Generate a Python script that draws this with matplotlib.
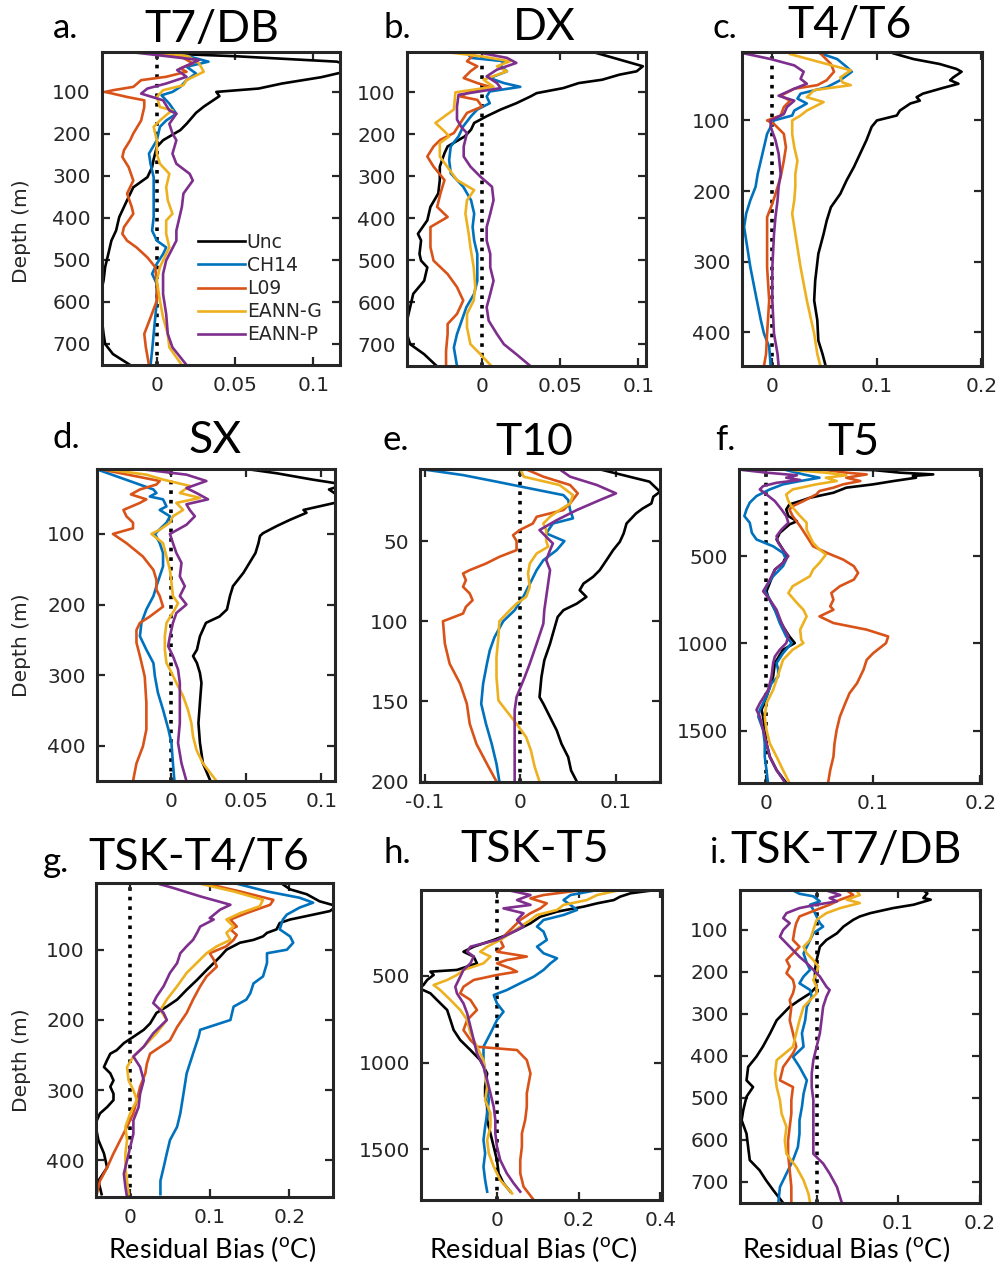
import matplotlib
matplotlib.use("Agg")
from matplotlib import pyplot as plt

plt.rcParams["font.family"] = "DejaVu Sans"
plt.rcParams["mathtext.fontset"] = "custom"
plt.rcParams["mathtext.rm"] = "Lato"

names = ["Unc", "CH14", "L09", "EANN-G", "EANN-P"]
colors = ["k", "#0072BD", "#D95319", "#EDB120", "#7E2F8E"]

# each series: (depth in m, residual bias in degC)
# a. T7/DB
a_unc = [(5, -0.02), (15, 0.05), (28, 0.115), (40, 0.125), (52, 0.12), (65, 0.105), (80, 0.08), (92, 0.065),
         (100, 0.038), (110, 0.04), (120, 0.036), (135, 0.03), (150, 0.025), (176, 0.019), (191, 0.015),
         (215, 0.004), (231, 0.0), (260, -0.002), (279, -0.003), (303, -0.006), (327, -0.015), (358, -0.019),
         (374, -0.021), (398, -0.024), (430, -0.026), (454, -0.029), (486, -0.031), (517, -0.033), (549, -0.034),
         (581, -0.036), (613, -0.036), (645, -0.035), (676, -0.034), (700, -0.033), (724, -0.028), (750, -0.017)]
a_ch14 = [(5, 0.0), (15, 0.02), (28, 0.033), (40, 0.019), (56, 0.025), (72, 0.019), (88, 0.015), (100, 0.01),
          (108, 0.003), (128, 0.008), (152, 0.0125), (168, 0.006), (183, 0.002), (215, 0.0), (247, -0.005),
          (271, -0.004), (303, -0.002), (358, -0.002), (398, -0.002), (430, -0.003), (454, 0.0), (470, 0.006),
          (486, 0.004), (509, 0.0), (533, -0.003), (557, 0.0), (597, 0.0), (637, -0.001), (676, -0.002),
          (716, -0.003), (750, -0.004)]
a_l09 = [(5, -0.005), (15, 0.015), (32, 0.023), (44, 0.015), (52, 0.019), (64, 0.006), (72, -0.01), (88, -0.015),
         (96, -0.028), (100, -0.033), (112, -0.019), (120, -0.008), (136, -0.008), (168, -0.01), (199, -0.015),
         (215, -0.017), (239, -0.021), (255, -0.022), (279, -0.018), (311, -0.015), (342, -0.019), (374, -0.016),
         (390, -0.015), (422, -0.021), (438, -0.022), (454, -0.019), (470, -0.013), (494, -0.006), (517, -0.001),
         (557, 0.0), (597, 0.0), (637, -0.004), (676, -0.008), (708, -0.007), (750, -0.005)]
a_eanng = [(5, 0.0), (15, 0.02), (32, 0.027), (52, 0.03), (72, 0.019), (84, 0.017), (96, 0.004), (112, 0.0),
           (136, 0.002), (144, 0.01), (152, 0.007), (168, 0.002), (183, -0.002), (215, 0.0), (247, 0.0),
           (271, 0.002), (295, 0.008), (327, 0.006), (358, 0.007), (390, 0.01), (406, 0.006), (438, 0.006),
           (470, 0.008), (517, 0.002), (549, 0.0), (597, 0.002), (637, 0.004), (676, 0.007), (708, 0.008),
           (750, 0.016)]
a_eannp = [(5, -0.017), (24, 0.027), (48, 0.013), (64, 0.019), (80, 0.006), (92, -0.006), (104, -0.01),
           (120, 0.004), (144, 0.008), (152, 0.0125), (176, 0.008), (199, 0.01), (215, 0.0125), (247, 0.01),
           (271, 0.0125), (295, 0.021), (311, 0.023), (342, 0.017), (374, 0.016), (398, 0.0145), (430, 0.0125),
           (454, 0.0125), (501, 0.006), (533, 0.004), (581, 0.004), (629, 0.006), (676, 0.007), (708, 0.01),
           (750, 0.019)]

# b. DX
b_unc = [(4, 0.071), (22, 0.088), (38, 0.103), (50, 0.099), (58, 0.088), (70, 0.077), (78, 0.062), (90, 0.052),
         (102, 0.035), (110, 0.031), (126, 0.022), (141, 0.012), (157, 0.003), (173, -0.005), (189, -0.007),
         (205, -0.011), (229, -0.022), (245, -0.024), (277, -0.027), (309, -0.027), (341, -0.028), (373, -0.033),
         (405, -0.035), (437, -0.041), (453, -0.039), (485, -0.040), (501, -0.039), (517, -0.035), (549, -0.037),
         (580, -0.044), (612, -0.046), (644, -0.048), (676, -0.048), (700, -0.046), (724, -0.037), (752, -0.029)]
b_ch14 = [(5, -0.01), (18, -0.007), (26, 0.014), (38, 0.012), (50, 0.016), (66, 0.005), (78, 0.014), (87, 0.0245),
          (98, 0.005), (110, 0.003), (126, 0.005), (141, -0.003), (157, -0.007), (181, -0.012), (205, -0.015),
          (229, -0.020), (261, -0.021), (293, -0.020), (325, -0.012), (357, -0.007), (389, -0.005), (421, -0.006),
          (453, -0.005), (485, -0.003), (517, -0.003), (549, -0.003), (580, -0.005), (612, -0.010), (644, -0.013),
          (676, -0.016), (708, -0.018), (752, -0.016)]
b_l09 = [(10, -0.005), (26, -0.0096), (38, -0.003), (50, -0.0074), (66, -0.0117), (78, -0.003), (87, 0.005),
         (98, -0.0074), (110, -0.0138), (118, -0.003), (134, 0.0), (149, -0.0096), (173, -0.0138), (197, -0.018),
         (213, -0.0266), (229, -0.031), (253, -0.035), (277, -0.031), (309, -0.024), (341, -0.0266),
         (373, -0.0287), (397, -0.022), (421, -0.033), (437, -0.033), (469, -0.033), (501, -0.031), (533, -0.022),
         (564, -0.016), (596, -0.012), (628, -0.016), (652, -0.022), (676, -0.022), (716, -0.023), (752, -0.023)]
b_eanng = [(4, -0.023), (14, -0.001), (26, 0.018), (38, 0.0096), (50, 0.016), (70, 0.001), (87, 0.0074),
           (100, -0.017), (141, -0.018), (173, -0.0298), (193, -0.024), (205, -0.021), (221, -0.027),
           (253, -0.027), (309, -0.016), (333, -0.005), (357, -0.0096), (389, -0.0106), (437, -0.0085),
           (469, -0.0074), (517, -0.0053), (564, -0.0043), (596, -0.0053), (628, -0.0096), (660, -0.0096),
           (700, -0.0074), (724, -0.001), (752, 0.006)]
b_eannp = [(6, -0.001), (18, 0.016), (30, 0.022), (46, 0.0096), (62, 0.003), (78, 0.0096), (90, 0.012),
           (100, -0.005), (106, -0.015), (134, -0.016), (165, -0.016), (185, -0.0128), (197, -0.0096),
           (229, -0.0117), (253, -0.0117), (277, -0.0074), (301, -0.001), (325, 0.0064), (357, 0.0074),
           (389, 0.0053), (421, 0.003), (453, 0.003), (485, 0.0053), (517, 0.0053), (549, 0.0074), (580, 0.0053),
           (612, 0.003), (644, 0.0043), (676, 0.0096), (700, 0.014), (724, 0.022), (752, 0.031)]

# c. T4/T6
c_unc = [(5, 0.116), (13, 0.135), (20, 0.160), (27, 0.176), (31, 0.181), (39, 0.173), (43, 0.170), (48, 0.178),
         (54, 0.163), (62, 0.144), (67, 0.138), (72, 0.141), (76, 0.132), (86, 0.122), (93, 0.119), (100, 0.1),
         (109, 0.095), (128, 0.090), (147, 0.084), (166, 0.078), (185, 0.071), (204, 0.065), (223, 0.056),
         (242, 0.052), (261, 0.049), (289, 0.044), (327, 0.041), (355, 0.040), (383, 0.043), (412, 0.044),
         (431, 0.048), (448, 0.051)]
c_ch14 = [(5, 0.046), (13, 0.062), (24, 0.071), (31, 0.076), (43, 0.065), (53, 0.052), (62, 0.027), (69, 0.024),
          (76, 0.033), (86, 0.021), (93, 0.019), (100, 0.0016), (119, -0.005), (138, -0.008), (157, -0.011),
          (176, -0.014), (194, -0.016), (213, -0.021), (232, -0.025), (251, -0.027), (270, -0.025), (308, -0.021),
          (346, -0.016), (383, -0.011), (402, -0.008), (421, -0.003), (448, -0.0016)]
c_l09 = [(5, 0.046), (20, 0.056), (31, 0.059), (36, 0.056), (43, 0.052), (50, 0.043), (55, 0.021), (65, 0.008),
         (72, 0.017), (81, 0.011), (93, 0.008), (100, -0.005), (105, 0.0016), (119, 0.011), (138, 0.013),
         (157, 0.011), (180, 0.008), (204, 0.003), (218, 0.0), (237, -0.005), (261, -0.005), (308, -0.005),
         (355, -0.003), (402, -0.005), (431, -0.006), (448, -0.008)]
c_eanng = [(6, 0.017), (20, 0.052), (29, 0.075), (39, 0.065), (46, 0.067), (50, 0.075), (57, 0.040), (67, 0.033),
           (74, 0.049), (86, 0.033), (93, 0.027), (100, 0.019), (119, 0.019), (138, 0.021), (157, 0.024),
           (176, 0.022), (194, 0.022), (213, 0.021), (232, 0.019), (261, 0.022), (308, 0.027), (355, 0.033),
           (402, 0.040), (431, 0.043), (448, 0.046)]
c_eannp = [(5, -0.027), (13, -0.0016), (22, 0.021), (31, 0.030), (41, 0.027), (48, 0.033), (55, 0.021),
           (65, 0.006), (72, 0.021), (81, 0.014), (91, 0.011), (100, -0.0016), (109, -0.0016), (128, 0.003),
           (147, 0.006), (176, 0.008), (194, 0.006), (213, 0.005), (237, 0.003), (261, 0.0016), (308, 0.0),
           (355, 0.0), (402, 0.0016), (431, 0.005), (448, 0.006)]

# d. SX
d_unc = [(8, 0.05), (14, 0.07), (23, 0.094), (30, 0.115), (37, 0.105), (47, 0.112), (54, 0.113), (66, 0.088),
         (70, 0.09), (80, 0.079), (89, 0.07), (99, 0.061), (103, 0.059), (113, 0.058), (127, 0.056), (141, 0.052),
         (155, 0.048), (174, 0.041), (188, 0.039), (207, 0.037), (217, 0.032), (226, 0.023), (245, 0.019),
         (264, 0.017), (273, 0.0144), (283, 0.017), (297, 0.019), (311, 0.020), (339, 0.019), (368, 0.018),
         (396, 0.019), (425, 0.021), (450, 0.026)]
d_ch14 = [(8, 0.04), (9, -0.049), (37, -0.012), (42, -0.01), (47, -0.0144), (51, -0.0056), (61, -0.0033),
          (66, -0.0078), (75, -0.001), (84, -0.0033), (100, -0.011), (113, -0.0078), (127, -0.0056),
          (146, -0.0056), (160, -0.0078), (174, -0.01), (188, -0.012), (207, -0.0167), (226, -0.02), (245, -0.021),
          (264, -0.0167), (283, -0.012), (302, -0.011), (325, -0.009), (349, -0.0056), (377, -0.002), (396, 0.0),
          (425, 0.001), (450, 0.002)]
d_l09 = [(8, -0.048), (25, -0.0078), (30, -0.01), (37, -0.021), (44, -0.027), (51, -0.0167), (56, -0.021),
         (66, -0.032), (75, -0.03), (84, -0.0256), (92, -0.0256), (100, -0.039), (113, -0.03), (132, -0.019),
         (151, -0.012), (165, -0.01), (179, -0.01), (188, -0.0078), (203, -0.0056), (217, -0.0144), (226, -0.021),
         (236, -0.0233), (254, -0.0233), (273, -0.021), (302, -0.0178), (339, -0.0167), (377, -0.0167),
         (401, -0.019), (425, -0.0233), (450, -0.0256)]
d_eanng = [(8, -0.0456), (16, -0.0167), (23, -0.0056), (32, 0.0122), (42, 0.0056), (49, 0.019), (56, 0.0033),
           (66, 0.0078), (75, 0.001), (84, -0.001), (94, -0.0078), (100, -0.0133), (113, -0.0056), (132, -0.0033),
           (151, -0.001), (169, 0.0), (188, 0.001), (198, 0.0044), (207, 0.0022), (226, -0.0033), (245, -0.0044),
           (264, -0.0044), (283, -0.0033), (292, -0.001), (311, 0.0033), (330, 0.0078), (349, 0.011),
           (368, 0.0133), (387, 0.0144), (406, 0.0167), (425, 0.021), (450, 0.03)]
d_eannp = [(8, -0.021), (16, 0.01), (25, 0.0233), (35, 0.01), (42, 0.0167), (51, 0.0244), (58, 0.01),
           (66, 0.0122), (75, 0.0156), (87, 0.01), (100, -0.001), (113, 0.001), (127, 0.0033), (141, 0.0067),
           (160, 0.0056), (174, 0.0089), (188, 0.0056), (200, 0.01), (212, 0.0033), (226, 0.001), (245, -0.001),
           (259, -0.0022), (273, 0.001), (292, 0.0044), (311, 0.0056), (339, 0.0056), (368, 0.0056),
           (396, 0.0044), (425, 0.0067), (450, 0.01)]

# e. T10
e_unc = [(5.2, 0.083), (9.8, 0.114), (12.9, 0.135), (19.2, 0.146), (22.3, 0.139), (26.5, 0.137), (29.6, 0.128),
         (32.7, 0.121), (39, 0.111), (45.2, 0.108), (50.4, 0.104), (55.6, 0.097), (61.9, 0.09), (68.1, 0.083),
         (72.3, 0.076), (76.5, 0.066), (80.6, 0.062), (84.8, 0.069), (89, 0.059), (93.1, 0.045), (97.3, 0.039),
         (103.5, 0.036), (114, 0.031), (124.4, 0.025), (134.8, 0.022), (147.3, 0.020), (151.5, 0.024),
         (159.8, 0.031), (168.1, 0.038), (176.5, 0.043), (184.8, 0.05), (193.1, 0.053), (200, 0.059)]
e_ch14 = [(5.2, -0.102), (8.8, -0.06), (12.9, -0.025), (17.1, 0.0098), (21.3, 0.045), (24.4, 0.05), (30.6, 0.052),
          (35.8, 0.055), (39, 0.034), (45.2, 0.027), (50, 0.046), (55.6, 0.038), (61.9, 0.024), (68.1, 0.017),
          (76.5, 0.01), (84.8, 0.003), (93.1, -0.006), (100, -0.018), (109.8, -0.027), (118.1, -0.032),
          (126.5, -0.035), (139, -0.039), (151.5, -0.041), (164, -0.036), (176.5, -0.030), (189, -0.025),
          (200, -0.022)]
e_l09 = [(5.2, 0.006), (9.8, 0.024), (15, 0.052), (20.2, 0.06), (26.5, 0.052), (30.6, 0.045), (34.8, 0.017),
         (39, 0.013), (43.1, -0.0007), (46.3, -0.0077), (50, -0.004), (55.6, -0.004), (59.8, -0.022), (64, -0.036),
         (68.1, -0.053), (70.2, -0.06), (74.4, -0.057), (78.5, -0.06), (82.7, -0.053), (86.9, -0.05),
         (91, -0.057), (95.2, -0.06), (100, -0.081), (114, -0.079), (126.5, -0.074), (139, -0.063),
         (151.5, -0.056), (164, -0.053), (176.5, -0.046), (189, -0.035), (200, -0.025)]
e_eanng = [(5.2, 0.0), (9.8, 0.0035), (15, 0.041), (21.3, 0.055), (26.5, 0.052), (30.6, 0.041), (34.8, 0.031),
           (39, 0.024), (43.1, 0.027), (50, 0.027), (53.5, 0.029), (57.7, 0.017), (64, 0.0098), (70.2, 0.008),
           (78.5, 0.0098), (84.8, 0.006), (89, -0.004), (93.1, -0.011), (100, -0.022), (109.8, -0.023),
           (122.3, -0.025), (134.8, -0.025), (149.4, -0.023), (155.6, -0.015), (164, -0.004), (172.3, 0.006),
           (180.6, 0.011), (191, 0.015), (200, 0.02)]
e_eannp = [(5.2, 0.041), (9.8, 0.052), (15, 0.08), (20.2, 0.1), (24.4, 0.083), (30.6, 0.059), (36.9, 0.038),
           (43.1, 0.02), (47.3, 0.027), (51.5, 0.034), (55.6, 0.031), (61.9, 0.027), (68.1, 0.031), (76.5, 0.029),
           (84.8, 0.027), (93.1, 0.025), (101.5, 0.024), (114, 0.017), (126.5, 0.0098), (134.8, 0.0045),
           (147.3, -0.004), (155.6, -0.006), (168.1, -0.006), (180.6, -0.006), (191, -0.006), (200, -0.006)]

# f. T5
f_unc = [(2, 0.07), (6, 0.1), (21, 0.125), (31, 0.156), (40, 0.137), (50, 0.14), (69, 0.119), (88, 0.1),
         (107, 0.075), (136, 0.063), (165, 0.041), (184, 0.032), (203, 0.022), (232, 0.019), (270, 0.021),
         (299, 0.029), (318, 0.022), (366, 0.013), (404, 0.01), (462, 0.016), (500, 0.019), (538, 0.016),
         (577, 0.0084), (653, 0.0037), (701, 0.0006), (730, 0.002), (787, 0.0068), (845, 0.0115), (902, 0.016),
         (960, 0.022), (998, 0.027), (1036, 0.016), (1113, 0.0084), (1190, 0.0068), (1247, 0.0037),
         (1305, 0.0006), (1381, -0.004), (1420, -0.0025), (1496, -0.001), (1573, 0.0006), (1649, 0.0037),
         (1726, 0.01), (1799, 0.019)]
f_ch14 = [(6, 0.019), (31, 0.035), (50, 0.05), (69, 0.032), (88, 0.016), (117, 0.0037), (155, -0.0087),
          (193, -0.015), (232, -0.018), (270, -0.02), (308, -0.015), (366, -0.013), (404, -0.0087), (443, 0.0068),
          (481, 0.016), (519, 0.019), (557, 0.016), (615, 0.0068), (672, 0.0006), (701, -0.001), (730, 0.002),
          (807, 0.0084), (883, 0.013), (960, 0.019), (998, 0.024), (1056, 0.016), (1113, 0.01), (1151, 0.0115),
          (1190, 0.0115), (1228, 0.0053), (1305, 0.0006), (1381, -0.0056), (1420, -0.007), (1496, -0.0025),
          (1573, -0.001), (1649, -0.001), (1726, 0.0006), (1799, 0.002)]
f_l09 = [(6, 0.056), (21, 0.075), (31, 0.094), (50, 0.075), (69, 0.088), (88, 0.072), (107, 0.063), (126, 0.05),
         (146, 0.047), (165, 0.041), (184, 0.035), (213, 0.025), (232, 0.022), (270, 0.025), (328, 0.032),
         (385, 0.038), (443, 0.044), (481, 0.057), (519, 0.072), (557, 0.082), (596, 0.086), (634, 0.082),
         (672, 0.069), (711, 0.061), (749, 0.063), (787, 0.06), (807, 0.063), (845, 0.05), (883, 0.063),
         (921, 0.094), (960, 0.114), (998, 0.112), (1056, 0.1), (1094, 0.094), (1151, 0.091), (1228, 0.085),
         (1285, 0.078), (1343, 0.074), (1420, 0.069), (1496, 0.066), (1573, 0.064), (1649, 0.063), (1726, 0.06),
         (1799, 0.058)]
f_eanng = [(6, 0.025), (21, 0.056), (36, 0.075), (50, 0.056), (69, 0.066), (88, 0.047), (117, 0.025),
           (146, 0.019), (184, 0.021), (213, 0.024), (270, 0.032), (308, 0.038), (347, 0.038), (385, 0.041),
           (423, 0.044), (462, 0.050), (490, 0.056), (538, 0.050), (577, 0.044), (615, 0.041), (672, 0.025),
           (711, 0.021), (768, 0.029), (807, 0.035), (845, 0.038), (883, 0.035), (921, 0.032), (979, 0.033),
           (998, 0.035), (1036, 0.025), (1094, 0.016), (1151, 0.013), (1190, 0.011), (1266, 0.0068),
           (1343, 0.0006), (1420, -0.001), (1496, 0.0006), (1573, 0.0037), (1649, 0.01), (1726, 0.016),
           (1799, 0.022)]
f_eannp = [(6, -0.021), (21, 0.0006), (36, 0.029), (50, 0.019), (63, 0.032), (79, 0.01), (98, -0.0025),
           (117, -0.0056), (146, 0.0006), (184, 0.0084), (232, 0.0146), (270, 0.019), (308, 0.021), (347, 0.0146),
           (385, 0.01), (423, 0.0115), (462, 0.016), (500, 0.021), (538, 0.016), (577, 0.0084), (653, 0.0022),
           (701, -0.0025), (749, 0.0037), (807, 0.01), (883, 0.0146), (960, 0.021), (998, 0.019), (1036, 0.013),
           (1075, 0.0084), (1113, 0.0068), (1190, 0.0053), (1266, 0.0022), (1343, -0.0056), (1381, -0.0087),
           (1420, -0.0056), (1496, -0.0025), (1573, 0.0006), (1649, 0.0037), (1726, 0.01), (1799, 0.018)]

# g. TSK-T4/T6
g_unc = [(7, 0.192), (14, 0.201), (21, 0.222), (31, 0.238), (38, 0.26), (45, 0.251), (52, 0.222), (57, 0.201),
         (62, 0.188), (71, 0.184), (76, 0.172), (81, 0.167), (86, 0.155), (90, 0.138), (100, 0.121), (110, 0.113),
         (119, 0.105), (129, 0.096), (143, 0.084), (157, 0.071), (171, 0.059), (181, 0.046), (190, 0.033),
         (205, 0.025), (214, 0.017), (224, 0.004), (233, -0.008), (243, -0.017), (248, -0.025), (257, -0.029),
         (267, -0.033), (276, -0.025), (286, -0.021), (295, -0.025), (305, -0.021), (314, -0.021), (324, -0.029),
         (333, -0.038), (348, -0.044), (371, -0.040), (390, -0.033), (410, -0.029), (429, -0.040), (448, -0.036)]
g_ch14 = [(6, 0.134), (17, 0.172), (26, 0.213), (33, 0.23), (40, 0.213), (50, 0.197), (57, 0.192), (71, 0.188),
          (81, 0.201), (90, 0.205), (100, 0.197), (105, 0.172), (119, 0.172), (138, 0.167), (148, 0.155),
          (162, 0.151), (171, 0.146), (181, 0.13), (200, 0.126), (214, 0.088), (224, 0.086), (248, 0.079),
          (276, 0.071), (305, 0.067), (333, 0.063), (352, 0.059), (371, 0.050), (390, 0.046), (410, 0.042),
          (429, 0.038), (448, 0.038)]
g_l09 = [(6, 0.096), (17, 0.138), (29, 0.18), (36, 0.176), (48, 0.146), (57, 0.126), (67, 0.134), (71, 0.126),
         (79, 0.134), (86, 0.130), (95, 0.121), (105, 0.100), (114, 0.105), (124, 0.109), (138, 0.096),
         (152, 0.088), (171, 0.079), (190, 0.071), (210, 0.059), (229, 0.050), (248, 0.025), (262, 0.021),
         (276, 0.019), (295, 0.0125), (314, 0.0084), (333, 0.004), (352, -0.004), (371, -0.0125), (390, -0.021),
         (410, -0.029), (429, -0.038), (448, -0.042)]
g_eanng = [(6, 0.088), (17, 0.13), (29, 0.167), (38, 0.163), (48, 0.138), (57, 0.121), (67, 0.130), (76, 0.121),
           (86, 0.126), (95, 0.109), (105, 0.096), (114, 0.088), (133, 0.071), (152, 0.059), (171, 0.046),
           (186, 0.038), (200, 0.046), (219, 0.033), (238, 0.017), (252, 0.004), (267, -0.004), (286, -0.002),
           (300, 0.004), (314, 0.0084), (333, 0.0), (352, -0.006), (371, -0.004), (390, -0.006), (410, -0.006),
           (429, -0.004), (448, -0.002)]
g_eannp = [(7, 0.038), (12, 0.054), (24, 0.088), (36, 0.126), (43, 0.113), (55, 0.100), (57, 0.105), (67, 0.088),
           (76, 0.084), (86, 0.079), (95, 0.071), (105, 0.063), (119, 0.059), (133, 0.050), (152, 0.042),
           (167, 0.033), (176, 0.029), (190, 0.042), (200, 0.046), (219, 0.029), (238, 0.017), (252, 0.004),
           (267, 0.0125), (286, 0.017), (305, 0.0125), (324, 0.0105), (343, 0.004), (362, 0.004), (381, 0.0),
           (400, -0.004), (419, -0.008), (438, -0.006), (452, -0.004)]

# h. TSK-T5
h_unc = [(8, 0.375), (23, 0.327), (42, 0.302), (62, 0.286), (81, 0.245), (100, 0.212), (129, 0.147), (158, 0.106),
         (196, 0.082), (235, 0.049), (263, 0.024), (292, -0.008), (331, -0.057), (360, -0.082), (388, -0.057),
         (427, -0.049), (465, -0.098), (475, -0.163), (494, -0.155), (523, -0.171), (552, -0.18), (571, -0.19),
         (600, -0.163), (638, -0.147), (696, -0.122), (754, -0.114), (812, -0.106), (869, -0.09), (927, -0.065),
         (985, -0.041), (1062, -0.024), (1138, -0.029), (1196, -0.029), (1254, -0.024), (1331, -0.024),
         (1408, -0.016), (1485, -0.008), (1562, 0.0), (1638, 0.004), (1696, 0.016), (1744, 0.033)]
h_ch14 = [(8, 0.237), (33, 0.18), (62, 0.163), (90, 0.18), (119, 0.196), (148, 0.163), (177, 0.114), (215, 0.098),
          (244, 0.114), (292, 0.122), (331, 0.098), (369, 0.114), (398, 0.147), (427, 0.131), (465, 0.114),
          (504, 0.09), (542, 0.057), (581, 0.024), (610, -0.008), (658, 0.0), (706, 0.016), (754, 0.0),
          (831, -0.016), (908, -0.033), (985, -0.033), (1062, -0.029), (1138, -0.024), (1215, -0.02),
          (1292, -0.024), (1369, -0.029), (1446, -0.033), (1523, -0.029), (1600, -0.033), (1677, -0.029),
          (1744, -0.024)]
h_l09 = [(8, 0.196), (33, 0.114), (52, 0.082), (81, 0.122), (110, 0.106), (138, 0.082), (177, 0.057), (215, 0.041),
         (254, 0.024), (292, 0.008), (331, 0.016), (360, 0.0), (388, 0.073), (408, 0.024), (427, 0.0),
         (456, 0.033), (475, 0.049), (494, 0.0), (523, -0.057), (562, -0.082), (600, -0.09), (638, -0.065),
         (696, -0.049), (754, -0.073), (812, -0.082), (869, -0.065), (908, -0.049), (927, 0.049), (985, 0.073),
         (1062, 0.082), (1177, 0.073), (1254, 0.073), (1331, 0.069), (1408, 0.061), (1485, 0.061),
         (1562, 0.057), (1638, 0.057), (1715, 0.065), (1792, 0.09)]
h_eanng = [(8, 0.294), (33, 0.245), (62, 0.22), (90, 0.163), (119, 0.147), (148, 0.098), (177, 0.082),
           (215, 0.057), (254, 0.033), (292, 0.008), (331, -0.024), (360, -0.041), (388, -0.016), (427, -0.033),
           (465, -0.082), (494, -0.098), (523, -0.122), (552, -0.155), (581, -0.139), (638, -0.114), (696, -0.09),
           (754, -0.073), (831, -0.065), (908, -0.049), (985, -0.033), (1062, -0.029), (1138, -0.024),
           (1215, -0.029), (1292, -0.016), (1369, -0.016), (1446, -0.024), (1523, -0.02), (1600, -0.008),
           (1677, 0.008), (1754, 0.037)]
h_eannp = [(8, 0.033), (33, 0.082), (62, 0.049), (90, 0.082), (110, 0.016), (138, 0.065), (177, 0.049),
           (215, 0.065), (254, 0.033), (292, 0.0), (331, -0.065), (360, -0.073), (388, -0.057), (427, -0.065),
           (465, -0.082), (504, -0.09), (562, -0.102), (600, -0.098), (658, -0.082), (715, -0.073), (792, -0.065),
           (869, -0.057), (946, -0.049), (1023, -0.033), (1100, -0.024), (1177, -0.016), (1254, -0.008),
           (1331, -0.004), (1408, -0.004), (1485, 0.0), (1562, 0.008), (1638, 0.024), (1696, 0.041),
           (1744, 0.057)]

# i. TSK-T7/DB
i_unc = [(6, 0.131), (13, 0.136), (24, 0.131), (28, 0.14), (40, 0.119), (48, 0.094), (60, 0.066), (68, 0.053),
         (76, 0.045), (92, 0.033), (108, 0.025), (124, 0.012), (140, 0.004), (156, 0.002), (172, 0.0),
         (195, -0.002), (219, -0.002), (235, 0.0), (251, -0.008), (267, -0.021), (283, -0.033), (315, -0.049),
         (346, -0.057), (378, -0.066), (402, -0.074), (426, -0.084), (458, -0.086), (474, -0.078), (497, -0.086),
         (529, -0.09), (553, -0.092), (585, -0.086), (617, -0.084), (648, -0.082), (672, -0.070), (696, -0.062),
         (720, -0.053), (750, -0.041)]
i_ch14 = [(6, -0.029), (14, -0.021), (20, -0.004), (32, 0.004), (40, -0.008), (52, -0.004), (68, 0.0), (84, 0.004),
          (92, 0.008), (108, -0.004), (124, -0.008), (140, -0.012), (156, -0.016), (179, -0.012), (195, -0.008),
          (211, -0.016), (227, -0.021), (243, -0.008), (259, -0.006), (283, -0.012), (315, -0.014), (346, -0.018),
          (378, -0.016), (402, -0.029), (426, -0.021), (458, -0.012), (490, -0.016), (521, -0.018), (553, -0.021),
          (585, -0.021), (617, -0.023), (648, -0.029), (680, -0.037), (712, -0.045), (750, -0.047)]
i_l09 = [(6, 0.037), (17, 0.045), (28, 0.029), (40, 0.016), (52, 0.0), (68, -0.021), (84, -0.025), (100, -0.027),
         (124, -0.029), (140, -0.021), (156, -0.029), (172, -0.037), (187, -0.033), (203, -0.037), (219, -0.029),
         (235, -0.027), (251, -0.029), (267, -0.033), (283, -0.031), (315, -0.033), (346, -0.029), (378, -0.025),
         (394, -0.029), (426, -0.041), (458, -0.045), (474, -0.029), (505, -0.031), (537, -0.031), (569, -0.033),
         (601, -0.035), (633, -0.035), (672, -0.033), (712, -0.031), (750, -0.031)]
i_eanng = [(6, 0.049), (17, 0.053), (28, 0.037), (36, 0.053), (48, 0.029), (60, 0.012), (76, 0.0), (100, -0.004),
           (124, -0.008), (140, -0.016), (156, -0.012), (172, -0.004), (187, 0.002), (203, 0.0), (219, -0.004),
           (235, 0.0), (251, 0.0), (267, -0.008), (283, -0.016), (315, -0.021), (346, -0.025), (378, -0.029),
           (410, -0.049), (442, -0.051), (474, -0.049), (505, -0.045), (537, -0.043), (569, -0.037), (601, -0.039),
           (633, -0.037), (664, -0.025), (696, -0.016), (728, -0.01), (750, -0.008)]
i_eannp = [(6, 0.012), (17, 0.029), (24, 0.016), (32, 0.025), (40, 0.0), (48, -0.021), (60, -0.037), (72, -0.041),
           (84, -0.033), (100, -0.041), (116, -0.045), (132, -0.037), (148, -0.029), (164, -0.021), (179, -0.012),
           (195, -0.004), (211, 0.004), (235, 0.012), (243, 0.016), (259, 0.012), (283, 0.008), (315, 0.006),
           (346, 0.004), (378, 0.0), (410, -0.004), (442, -0.006), (474, -0.006), (505, -0.004), (537, -0.004),
           (569, -0.004), (601, -0.004), (633, -0.004), (656, 0.008), (680, 0.016), (712, 0.025), (750, 0.031)]

W, H = 1001, 1268
fig = plt.figure(figsize=(W / 100, H / 100), dpi=100)


def px_box(x0, y0, x1, y1):
    return [x0 / W, 1 - y1 / H, (x1 - x0) / W, (y1 - y0) / H]


def ftext(x, y, s, **kw):
    fig.text(x / W, 1 - y / H, s, va="baseline", **kw)


panels = [
    # series, box, xlim, ylim, xticks, xticklabels, yticks, letter pos, title pos, title
    ([a_unc, a_ch14, a_l09, a_eanng, a_eannp], (102, 52, 340, 365), (-0.035, 0.117), (750, 5),
     [0, 0.05, 0.1], ["0", "0.05", "0.1"], [100, 200, 300, 400, 500, 600, 700], (53, 38), (212, 42), "T7/DB"),
    ([b_unc, b_ch14, b_l09, b_eanng, b_eannp], (407, 52, 646, 366), (-0.048, 0.105), (752, 4),
     [0, 0.05, 0.1], ["0", "0.05", "0.1"], [100, 200, 300, 400, 500, 600, 700], (383, 38), (544, 40), "DX"),
    ([c_unc, c_ch14, c_l09, c_eanng, c_eannp], (742, 52, 982, 366), (-0.029, 0.2005), (448, 3),
     [0, 0.1, 0.2], ["0", "0.1", "0.2"], [100, 200, 300, 400], (713, 38), (850, 38), "T4/T6"),
    ([d_unc, d_ch14, d_l09, d_eanng, d_eannp], (97, 469, 335, 781), (-0.0496, 0.109), (450, 8),
     [0, 0.05, 0.1], ["0", "0.05", "0.1"], [100, 200, 300, 400], (53, 448), (215, 453), "SX"),
    ([e_unc, e_ch14, e_l09, e_eanng, e_eannp], (420, 469, 660, 782), (-0.105, 0.146), (200.3, 5),
     [-0.1, 0, 0.1], ["-0.1", "0", "0.1"], [50, 100, 150, 200], (383, 450), (534, 455), "T10"),
    ([f_unc, f_ch14, f_l09, f_eanng, f_eannp], (739, 469, 981, 783), (-0.025, 0.2005), (1800, 0),
     [0, 0.1, 0.2], ["0", "0.1", "0.2"], [500, 1000, 1500], (715, 450), (853, 455), "T5"),
    ([g_unc, g_ch14, g_l09, g_eanng, g_eannp], (96, 883, 333, 1197), (-0.043, 0.255), (452, 5),
     [0, 0.1, 0.2], ["0", "0.1", "0.2"], [100, 200, 300, 400], (43, 872), (199, 870), "TSK-T4/T6"),
    ([h_unc, h_ch14, h_l09, h_eanng, h_eannp], (421, 890, 662, 1200), (-0.186, 0.404), (1792, 4),
     [0, 0.2, 0.4], ["0", "0.2", "0.4"], [500, 1000, 1500], (383, 863), (535, 862), "TSK-T5"),
    ([i_unc, i_ch14, i_l09, i_eanng, i_eannp], (740, 890, 980, 1203), (-0.094, 0.2005), (750, 5),
     [0, 0.1, 0.2], ["0", "0.1", "0.2"], [100, 200, 300, 400, 500, 600, 700], (710, 863), (846, 863), "TSK-T7/DB"),
]

letters = "abcdefghi"
axes = []
for k, (series, box, xl, yl, xt, xtl, yt, lpos, tpos, title) in enumerate(panels):
    ax = fig.add_axes(px_box(*box))
    ax.axvline(0, color="k", ls=":", lw=2.6, zorder=1)
    for s, c, n in zip(series, colors, names):
        z = [p[0] for p in s]
        x = [p[1] for p in s]
        ax.plot(x, z, color=c, lw=1.9, label=n, zorder=2)
    ax.set_xlim(*xl)
    ax.set_ylim(*yl)
    ax.set_xticks(xt)
    ax.set_xticklabels(xtl)
    ax.set_yticks(yt)
    ax.tick_params(direction="in", top=True, right=True, length=6, width=1.6,
                   labelsize=14.5, colors="#262626", pad=8)
    for sp in ax.spines.values():
        sp.set_linewidth(2.2)
        sp.set_color("#262626")
    ftext(lpos[0], lpos[1], letters[k] + ".", fontsize=25, family="Lato", ha="left")
    ftext(tpos[0], tpos[1], title, fontsize=32, family="Lato", ha="center")
    axes.append(ax)

# y labels on the left column
for yc in (231, 645, 1060):
    fig.text(22 / W, 1 - yc / H, "Depth (m)", rotation=90, ha="center", va="center",
             fontsize=14.5, color="#262626")

# x labels on the bottom row
for xc in (212, 533, 846):
    ftext(xc, 1258, r"Residual Bias ($^{\mathrm{o}}$C)", fontsize=19.5, family="Lato", ha="center")

leg = axes[0].legend(loc="lower right", bbox_to_anchor=(0.97, 0.03), frameon=False, fontsize=13.5,
                     handlelength=2.5, handletextpad=0.1, labelspacing=0.22, borderpad=0.1)
for t in leg.get_texts():
    t.set_color("#262626")

fig.savefig("out.png", dpi=100, facecolor="white")
